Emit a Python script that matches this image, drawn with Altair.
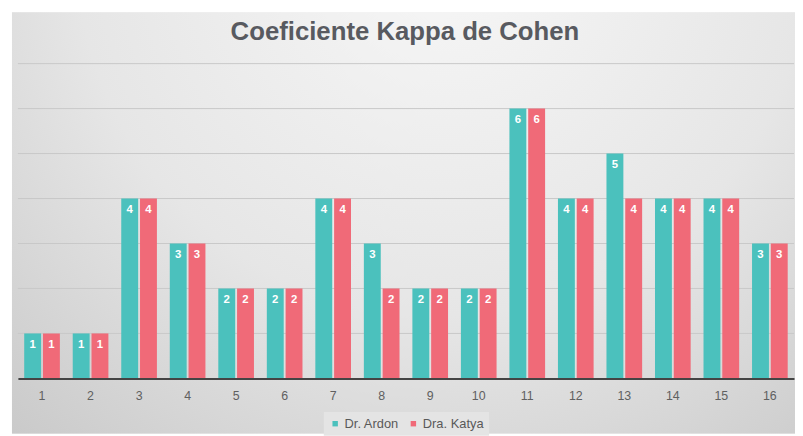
import altair as alt
import pandas as pd

categories = [str(i) for i in range(1, 17)]
ardon = [1, 1, 4, 3, 2, 2, 4, 3, 2, 2, 6, 4, 5, 4, 4, 3]
katya = [1, 1, 4, 3, 2, 2, 4, 2, 2, 2, 6, 4, 4, 4, 4, 3]
series = ["Dr. Ardon", "Dra. Katya"]
colors = ["#4bc1bd", "#f06a78"]
grid_values = [1, 2, 3, 4, 5, 6, 7]
title_text = "Coeficiente Kappa de Cohen"

rows = []
for c, a, k in zip(categories, ardon, katya):
    rows.append({"cat": c, "serie": series[0], "val": a})
    rows.append({"cat": c, "serie": series[1], "val": k})
df = pd.DataFrame(rows)

W, H = 784, 318
PL, PT, PR, PB = 10, 54, 1, 56

yscale = alt.Scale(domain=[0, 7], nice=False)

bg = alt.Chart(pd.DataFrame({"a": [0]})).mark_rect(
    fill=alt.Gradient(
        gradient="radial",
        stops=[alt.GradientStop(color="#f7f7f7", offset=0),
               alt.GradientStop(color="#e6e6e6", offset=0.55),
               alt.GradientStop(color="#c8c8c8", offset=1)],
        x1=0.55, y1=0.15, r1=0, x2=0.55, y2=0.15, r2=0.85,
    ),
    clip=False,
).encode(
    x=alt.value(-6), x2=alt.value(W + PR),
    y=alt.value(-PT + 2), y2=alt.value(H + PB),
)

grid = alt.Chart(pd.DataFrame({"g": grid_values})).mark_rule(
    color="#c8c8c8", strokeWidth=1
).encode(
    y=alt.Y("g:Q", scale=yscale, axis=None),
    x=alt.value(0), x2=alt.value(W),
)

xenc = alt.X("cat:N", sort=categories, title=None,
             scale=alt.Scale(paddingInner=0.265, paddingOuter=0.13),
             axis=alt.Axis(labelAngle=0, labelColor="#606060", labelFontSize=12.5,
                           labelFont="Liberation Sans", ticks=False,
                           domainColor="#444444", domainWidth=2, labelPadding=11,
                           grid=False, zindex=1))
xoff = alt.XOffset("serie:N", sort=series, scale=alt.Scale(paddingInner=0.1))

bars = alt.Chart(df).mark_bar().encode(
    x=xenc,
    xOffset=xoff,
    y=alt.Y("val:Q", title=None, scale=yscale, axis=None),
    color=alt.Color("serie:N", sort=series, title=None,
                    scale=alt.Scale(domain=series, range=colors),
                    legend=alt.Legend(orient="none", direction="horizontal",
                                      legendX=309, legendY=352,
                                      symbolType="square", symbolSize=30,
                                      labelFontSize=13, labelColor="#595959",
                                      labelFont="Liberation Sans",
                                      fillColor="#e4e4e4", padding=5,
                                      columnPadding=8, labelOffset=3)),
)

labels = alt.Chart(df).mark_text(
    baseline="middle", dy=12, color="white", fontWeight="bold",
    fontSize=11.5, font="Liberation Sans",
).encode(
    x=alt.X("cat:N", sort=categories),
    xOffset=xoff,
    y=alt.Y("val:Q", scale=yscale, axis=None),
    text="val:Q",
)

title = alt.Chart(pd.DataFrame({"t": [title_text]})).mark_text(
    font="Liberation Sans", fontSize=26, fontWeight="bold", color="#585a60",
    align="center", baseline="alphabetic",
).encode(
    x=alt.value(W / 2 - 1), y=alt.value(-24), text="t:N",
)

chart = alt.layer(bg, grid, bars, labels, title).properties(
    width=W, height=H,
    autosize=alt.AutoSizeParams(type="none"),
    padding={"left": PL, "top": PT, "right": PR, "bottom": PB},
    background="white",
).configure_view(stroke=None)

chart.save("out.html", embed_options={"renderer": "svg", "actions": False})
